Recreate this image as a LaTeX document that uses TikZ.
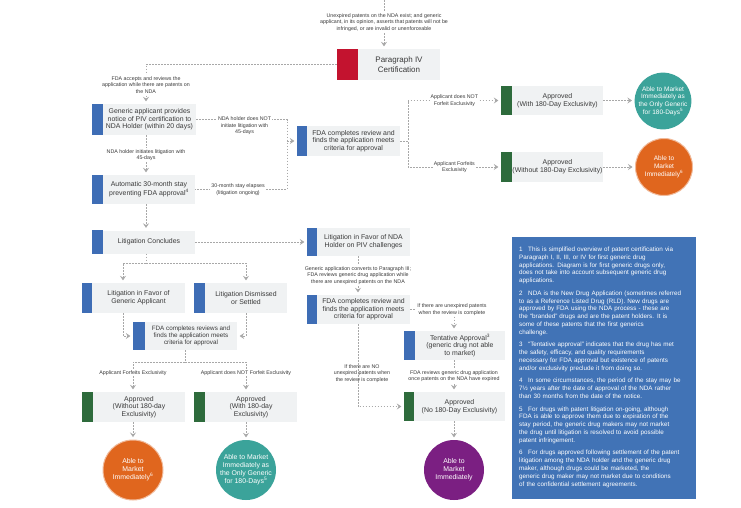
\documentclass[tikz,border=0pt]{standalone}
\usepackage{fontspec}
\setmainfont{Liberation Sans}
\usetikzlibrary{arrows.meta}
\definecolor{barblue}{HTML}{3E6DB5}
\definecolor{bargreen}{HTML}{2E6B3C}
\definecolor{parared}{HTML}{C3132F}
\definecolor{boxgray}{HTML}{F0F2F3}
\definecolor{linegray}{HTML}{A8A8A8}
\definecolor{txt}{HTML}{3A3A3A}
\definecolor{cteal}{HTML}{3BA39A}
\definecolor{corange}{HTML}{E0661E}
\definecolor{cpurple}{HTML}{7B1F82}
\definecolor{noteblue}{HTML}{4173B6}
\begin{document}
\begin{tikzpicture}[x=1pt,y=-1pt,
  gbox/.style={fill=boxgray, inner sep=0pt, align=center, text=txt, font=\fontsize{6.9}{7.7}\selectfont},
  lbl/.style={inner sep=1pt, align=center, text=txt, font=\fontsize{5.3}{6.6}\selectfont},
  lblw/.style={lbl, fill=white},
  dl/.style={draw=linegray, line width=0.6pt, dash pattern=on 1.6pt off 1.4pt},
  dla/.style={dl, -{Stealth[length=4.5pt,width=6pt,inset=1.8pt]}, shorten >=2.5pt},
  circ/.style={circle, inner sep=0pt, text=white, align=center, font=\fontsize{6.5}{7.7}\selectfont},
  circbig/.style={circ, font=\fontsize{6.9}{7.9}\selectfont},
]
\fill[white] (0,0) rectangle (741,507);
\useasboundingbox (0,0) rectangle (741,507);

% boxes
\node[gbox, minimum width=82pt, minimum height=31pt, font=\fontsize{8}{10}\selectfont] (para) at (399,64.5) {Paragraph IV\\Certification};
\node[gbox, minimum width=93pt, minimum height=31pt] (gen) at (149.5,119.5) {Generic applicant provides\\notice of PIV certification to\\NDA Holder (within 20 days)};
\node[gbox, minimum width=92pt, minimum height=29pt] (stay) at (149,189.5) {Automatic 30-month stay\\preventing FDA approval\textsuperscript{4}};
\node[gbox, minimum width=92pt, minimum height=23pt] (conc) at (149,242) {Litigation Concludes};
\node[gbox, minimum width=93pt, minimum height=30pt] (fdaA) at (353.5,141) {FDA completes review and\\finds the application meets\\criteria for approval};
\node[gbox, minimum width=91pt, minimum height=29pt] (appA) at (557.5,100.5) {Approved\\(With 180-Day Exclusivity)};
\node[gbox, minimum width=91pt, minimum height=30pt] (appB) at (557.5,167) {Approved\\(Without 180-Day Exclusivity)};
\node[gbox, minimum width=93pt, minimum height=28pt] (litnda) at (363.5,242) {Litigation in Favor of NDA\\Holder on PIV challenges};
\node[gbox, minimum width=93pt, minimum height=30pt] (favg) at (138.5,298) {Litigation in Favor of\\Generic Applicant};
\node[gbox, minimum width=82pt, minimum height=30pt] (dism) at (246,298) {Litigation Dismissed\\or Settled};
\node[gbox, minimum width=92pt, minimum height=28pt, font=\fontsize{6.3}{7.3}\selectfont] (fdaB) at (191,336) {FDA completes reviews and\\finds the application meets\\criteria for approval};
\node[gbox, minimum width=92pt, minimum height=30pt] (appC) at (139,407) {Approved\\(Without 180-day\\Exclusivity)};
\node[gbox, minimum width=92pt, minimum height=30pt] (appD) at (251,407) {Approved\\(With 180-day\\Exclusivity)};
\node[gbox, minimum width=93pt, minimum height=29pt] (fdaC) at (363.5,309.5) {FDA completes review and\\finds the application meets\\criteria for approval};
\node[gbox, minimum width=90pt, minimum height=29pt] (tent) at (460,345.5) {Tentative Approval\textsuperscript{3}\\(generic drug not able\\to market)};
\node[gbox, minimum width=91pt, minimum height=29pt] (appE) at (459.5,406.5) {Approved\\(No 180-Day Exclusivity)};

\foreach \n/\c/\w in {para/parared/21, gen/barblue/11, stay/barblue/11, conc/barblue/11, fdaA/barblue/10, appA/bargreen/11, appB/bargreen/11, litnda/barblue/10, favg/barblue/10, dism/barblue/11, fdaB/barblue/12, appC/bargreen/11, appD/bargreen/11, fdaC/barblue/10, tent/barblue/11, appE/bargreen/10}
  \fill[\c] ([xshift=-\w pt]\n.south west) rectangle (\n.north west);

% circles
\node[circ, fill=cteal, minimum size=56pt] (cA) at (663,101) {Able to Market\\Immediately as\\the Only Generic\\for 180-Days\textsuperscript{5}};
\node[circ, fill=corange, draw=corange!45, line width=1pt, minimum size=57pt] (cB) at (664,167) {Able to\\Market\\Immediately\textsuperscript{6}};
\node[circbig, fill=corange, draw=corange!45, line width=1pt, minimum size=60pt] (cC) at (133,470) {Able to\\Market\\Immediately\textsuperscript{6}};
\node[circbig, fill=cteal, minimum size=60pt] (cD) at (246,470) {Able to Market\\Immediately as\\the Only Generic\\for 180-Days\textsuperscript{5}};
\node[circbig, fill=cpurple, minimum size=60pt] (cE) at (454,470) {Able to\\Market\\Immediately};

% notes
\node[fill=noteblue, minimum width=184pt, minimum height=262pt, anchor=north west, inner sep=0pt] (notes) at (512,237) {};
\node[anchor=north west, text width=177pt, inner sep=0pt, text=white, align=left, font=\fontsize{6.3}{7.9}\selectfont] (notetext) at (519,246.5) {\parindent=0pt
\hangindent=9pt\hangafter=1\makebox[9pt][l]{1}This is simplified overview of patent certification via\\Paragraph I, II, III, or IV for first generic drug\\applications. Diagram is for first generic drugs only,\\does not take into account subsequent generic drug\\applications.\par\vspace{4.4pt}
\hangindent=9pt\hangafter=1\makebox[9pt][l]{2}NDA is the New Drug Application (sometimes referred\\to as a Reference Listed Drug (RLD). New drugs are\\approved by FDA using the NDA process - these are\\the “branded” drugs and are the patent holders. It is\\some of these patents that the first generics\\challenge.\par\vspace{4.4pt}
\hangindent=9pt\hangafter=1\makebox[9pt][l]{3}“Tentative approval” indicates that the drug has met\\the safety, efficacy, and quality requirements\\necessary for FDA approval but existence of patents\\and/or exclusivity preclude it from doing so.\par\vspace{4.4pt}
\hangindent=9pt\hangafter=1\makebox[9pt][l]{4}In some circumstances, the period of the stay may be\\7½ years after the date of approval of the NDA rather\\than 30 months from the date of the notice.\par\vspace{4.4pt}
\hangindent=9pt\hangafter=1\makebox[9pt][l]{5}For drugs with patent litigation on-going, although\\FDA is able to approve them due to expiration of the\\stay period, the generic drug makers may not market\\the drug until litigation is resolved to avoid possible\\patent infringement.\par\vspace{4.4pt}
\hangindent=9pt\hangafter=1\makebox[9pt][l]{6}For drugs approved following settlement of the patent\\litigation among the NDA holder and the generic drug\\maker, although drugs could be marketed, the\\generic drug maker may not market due to conditions\\of the confidential settlement agreements.\par};

% column coordinates
\coordinate (top) at (384,0);
\coordinate (colA) at (146,0);
\coordinate (colB) at (287,0);
\coordinate (colC) at (123,0);
\coordinate (colD) at (246,0);
\coordinate (colE) at (185,0);
\coordinate (colF) at (133,0);
\coordinate (colG) at (358,0);
\coordinate (colH) at (454,0);
\coordinate (colI) at (408,0);
\coordinate (splitA) at (146,263);
\coordinate (splitB) at (185,362);

% connectors
\draw[dla] (top) -- node[lblw, pos=0.46]{Unexpired patents on the NDA exist; and generic\\applicant, in its opinion, asserts that patents will not be\\infringed, or are invalid or unenforceable} (top |- para.north);
\draw[dla] ([xshift=-21pt]para.west) -| node[lblw, pos=0.76]{FDA accepts and reviews the\\application while there are patents on\\the NDA} (colA |- gen.north);
\draw[dla] (colA |- gen.south) -- node[lblw]{NDA holder initiates litigation with\\45-days} (colA |- stay.north);
\draw[dl] (gen.east) -- node[lblw, anchor=north, yshift=4pt, xshift=3pt]{NDA holder does NOT\\initiate litigation with\\45-days} (gen.east -| colB) -- (stay.east -| colB) -- node[lblw, xshift=-3pt]{30-month stay elapses\\(litigation ongoing)} (stay.east);
\draw[dla] (fdaA.west -| colB) -- ([xshift=-10pt]fdaA.west);
\draw[dla] (colA |- stay.south) -- (colA |- conc.north);
\draw[dla] (conc.east) -- ([xshift=-10pt]litnda.west);
\draw[dl] (colA |- conc.south) -- (splitA);
\draw[dla] (splitA) -| (colC |- favg.north);
\draw[dla] (splitA) -| (colD |- dism.north);
\draw[dla] (colC |- favg.south) |- ([xshift=-12pt]fdaB.west);
\draw[dla] (colD |- dism.south) |- (fdaB.east);
\draw[dl] (colE |- fdaB.south) -- (splitB);
\draw[dla] (splitB) -| node[lblw, pos=0.68]{Applicant Forfeits Exclusivity} (colF |- appC.north);
\draw[dla] (splitB) -| node[lblw, pos=0.68]{Applicant does NOT Forfeit Exclusivity} (colD |- appD.north);
\draw[dla] (colF |- appC.south) -- (cC.north);
\draw[dla] (colD |- appD.south) -- (cD.north);

\draw[dla] (fdaA.east) -| (colI |- appA.west) -- node[lblw]{Applicant does NOT\\Forfeit Exclusivity} ([xshift=-11pt]appA.west);
\draw[dla] (fdaA.east) -| (colI |- appB.west) -- node[lblw]{Applicant Forfeits\\Exclusivity} ([xshift=-11pt]appB.west);
\draw[dla] (appA.east) -- (appA.east -| cA.west);
\draw[dla] (appB.east) -- (appB.east -| cB.west);

\draw[dla] (colG |- litnda.south) -- node[lblw]{Generic application converts to Paragraph III;\\FDA reviews generic drug application while\\there are unexpired patents on the NDA} (colG |- fdaC.north);
\draw[dla] (fdaC.east) -| node[lblw, pos=0.5, xshift=-2pt]{If there are unexpired patents\\when the review is complete} (colH |- tent.north);
\draw[dla] (colH |- tent.south) -- node[lblw]{FDA reviews generic drug application\\once patents on the NDA have expired} (colH |- appE.north);
\draw[dla] (colG |- fdaC.south) |- node[lbl, pos=0.3, xshift=4pt]{If there are NO\\unexpired patents when\\the review is complete} ([xshift=-10pt]appE.west);
\draw[dla] (colH |- appE.south) -- (cE.north);
\end{tikzpicture}
\end{document}
